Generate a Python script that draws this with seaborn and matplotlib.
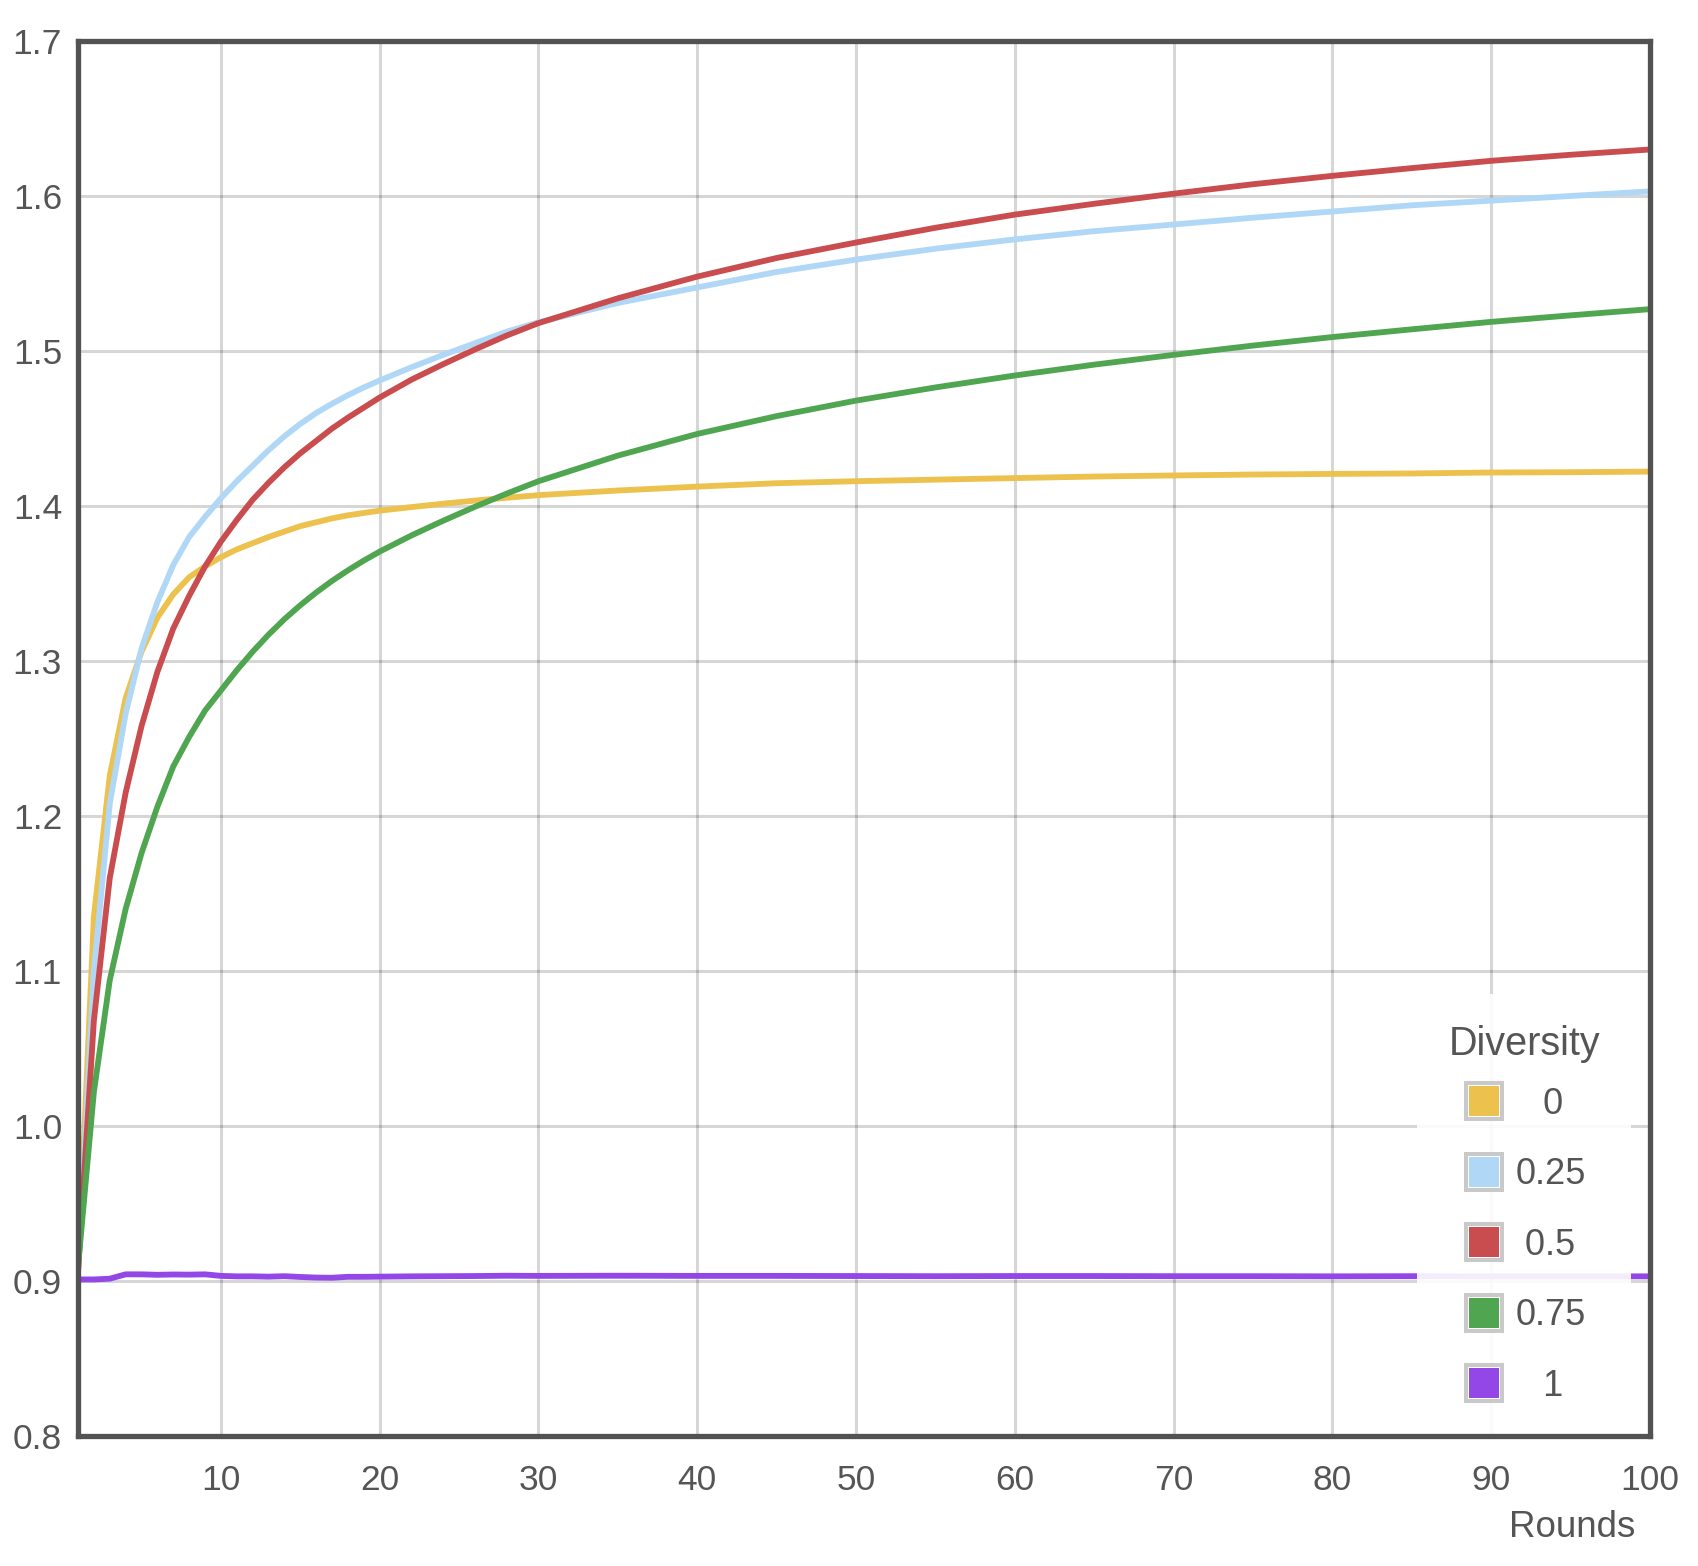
import numpy as np
import pandas as pd
import seaborn as sns
import matplotlib.pyplot as plt
from matplotlib.lines import Line2D

# values
rounds = [1, 2, 3, 4, 5, 6, 7, 8, 9, 10, 11, 12, 13, 14, 15, 16, 17, 18, 19, 20,
          22, 24, 26, 28, 30, 35, 40, 45, 50, 55, 60, 65, 70, 75, 80, 85, 90, 95, 100]

div_0 = [0.905, 1.135, 1.226, 1.276, 1.306, 1.328, 1.343, 1.354, 1.361, 1.367,
         1.372, 1.376, 1.380, 1.3835, 1.387, 1.3895, 1.392, 1.394, 1.3955, 1.397,
         1.3993, 1.4015, 1.4035, 1.4053, 1.407, 1.410, 1.4125, 1.4147, 1.416, 1.417,
         1.418, 1.419, 1.4197, 1.4203, 1.4207, 1.421, 1.4216, 1.4218, 1.4222]

div_025 = [0.905, 1.100, 1.208, 1.266, 1.308, 1.338, 1.362, 1.380, 1.393, 1.405,
           1.416, 1.426, 1.436, 1.445, 1.453, 1.460, 1.466, 1.4715, 1.4765, 1.481,
           1.4895, 1.4975, 1.505, 1.5125, 1.5185, 1.531, 1.541, 1.551, 1.559, 1.566,
           1.572, 1.5773, 1.5816, 1.586, 1.590, 1.594, 1.597, 1.600, 1.603]

div_05 = [0.906, 1.068, 1.160, 1.215, 1.258, 1.293, 1.321, 1.342, 1.361, 1.377,
          1.391, 1.404, 1.415, 1.425, 1.434, 1.442, 1.450, 1.457, 1.4635, 1.470,
          1.4815, 1.4915, 1.501, 1.510, 1.518, 1.534, 1.548, 1.560, 1.570, 1.5795,
          1.588, 1.595, 1.6015, 1.6076, 1.613, 1.618, 1.6227, 1.6266, 1.630]

div_075 = [0.909, 1.022, 1.094, 1.140, 1.176, 1.206, 1.232, 1.251, 1.268, 1.281,
           1.294, 1.306, 1.317, 1.327, 1.336, 1.3442, 1.3517, 1.3585, 1.3648, 1.3706,
           1.381, 1.3905, 1.3995, 1.408, 1.416, 1.4325, 1.4465, 1.458, 1.468, 1.4765,
           1.4842, 1.4912, 1.4975, 1.5035, 1.509, 1.514, 1.5188, 1.523, 1.527]

div_1 = [0.901, 0.901, 0.9015, 0.9043, 0.9043, 0.904, 0.9042, 0.9041, 0.9043, 0.9033,
         0.903, 0.903, 0.9028, 0.9031, 0.9026, 0.9022, 0.9021, 0.9027, 0.9027, 0.9028,
         0.903, 0.9031, 0.9032, 0.9034, 0.9033, 0.9034, 0.9033, 0.9033, 0.9032, 0.9031,
         0.9032, 0.9032, 0.9031, 0.9031, 0.903, 0.9031, 0.903, 0.903, 0.903]

levels = ['0', '0.25', '0.5', '0.75', '1']
legend_labels = ['\u2002 0', '0.25', ' 0.5', '0.75', '\u2002 1']
colors = ['#edc14d', '#b0d8f6', '#c94c4e', '#50a550', '#9347e6']
x_ticks = [10, 20, 30, 40, 50, 60, 70, 80, 90, 100]
y_ticks = [0.8, 0.9, 1.0, 1.1, 1.2, 1.3, 1.4, 1.5, 1.6, 1.7]

series = [div_0, div_025, div_05, div_075, div_1]
df = pd.concat([pd.DataFrame({'Rounds': rounds, 'value': s, 'Diversity': lv})
                for s, lv in zip(series, levels)], ignore_index=True)

sns.set_style('white')
plt.rcParams['font.family'] = ['Liberation Sans', 'DejaVu Sans']
txt = '#555555'

fig = plt.figure(figsize=(16.98, 15.66), dpi=100)
ax = fig.add_axes([78 / 1698, 1 - 1436 / 1566, (1650 - 78) / 1698, (1436 - 41) / 1566])

sns.lineplot(data=df, x='Rounds', y='value', hue='Diversity', hue_order=levels,
             palette=dict(zip(levels, colors)), linewidth=4.2, legend=False,
             estimator=None, ax=ax)

ax.set_xlim(1, 100)
ax.set_ylim(0.8, 1.7)
ax.set_xticks(x_ticks)
ax.set_yticks(y_ticks)
ax.set_yticklabels([f'{v:.1f}' for v in y_ticks])
ax.grid(True, color='black', alpha=0.16, lw=2.2)
ax.set_axisbelow(True)
ax.tick_params(axis='both', length=0, labelsize=25.5, colors=txt)
ax.tick_params(axis='x', pad=20)
ax.tick_params(axis='y', pad=11.5)
for sp in ax.spines.values():
    sp.set_visible(True)
    sp.set_color('#525252')
    sp.set_linewidth(3.8)
    sp.set_zorder(10)

ax.set_ylabel('')
ax.set_xlabel('Rounds', fontsize=26.5, color=txt, ha='right', va='center')
ax.xaxis.set_label_coords(0.9905, -0.0655)

handles = []
for c in colors:
    outer = Line2D([], [], ls='none', marker='s', ms=26.5, mew=2.9,
                   mfc='white', mec='#c9c9c9')
    inner = Line2D([], [], ls='none', marker='s', ms=22.3, mew=0, mfc=c)
    handles.append((outer, inner))

leg = ax.legend(handles, legend_labels, title='Diversity', loc='lower right',
                bbox_to_anchor=(0.988, 0.001), borderaxespad=0, frameon=True,
                fancybox=False, framealpha=0.9, edgecolor='none', facecolor='white',
                fontsize=26, title_fontsize=28.5, handlelength=1.2,
                handletextpad=0.26, borderpad=0.86, labelspacing=0.98,
                alignment='center')
leg._legend_box.sep = 17  # tighter gap under the title
for t in leg.get_texts():
    t.set_color(txt)
leg.get_title().set_color(txt)

fig.savefig('out.png', dpi=100)
